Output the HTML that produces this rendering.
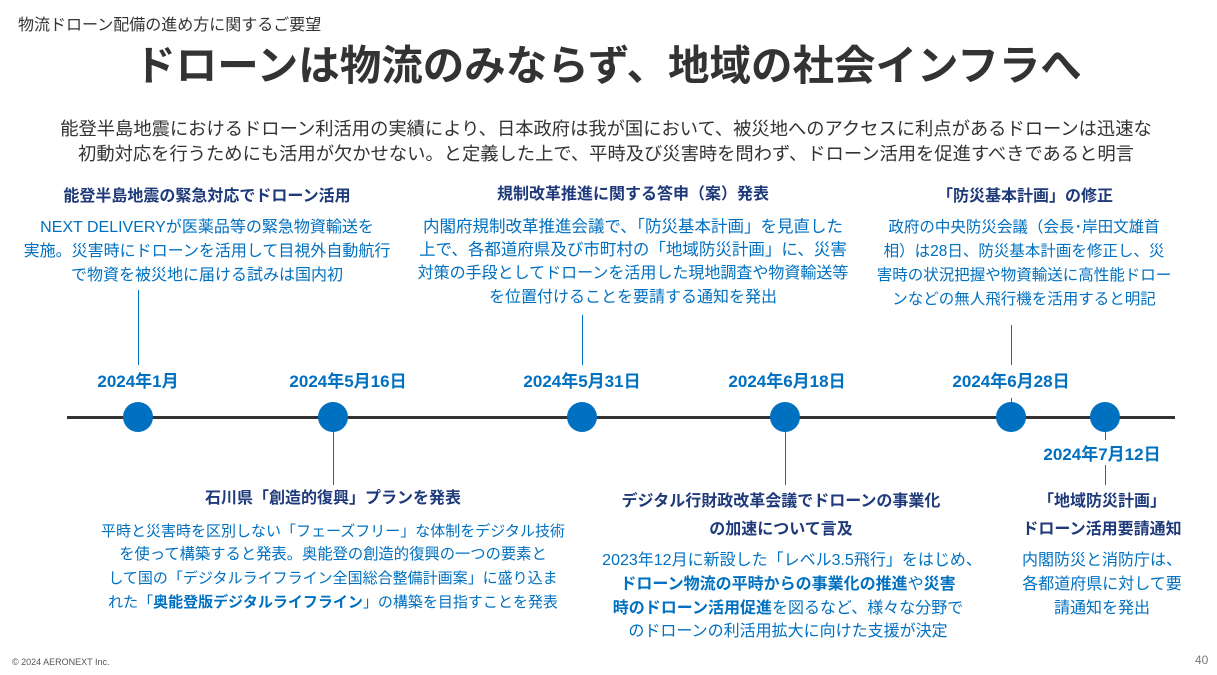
<!DOCTYPE html>
<html><head><meta charset="utf-8"><style>
body{margin:0;width:1217px;height:675px;background:#fff;position:relative;overflow:hidden;font-family:"Liberation Sans","Noto Sans CJK JP",sans-serif}
.l{position:absolute;white-space:nowrap;transform:translateX(-50%);line-height:1}
.h{color:#1f3a7a;font-weight:bold;font-size:16px}
.b{color:#0070c0;font-size:16px}
.d{color:#0070c0;font-weight:bold;font-size:17px}
.i{color:#333;font-size:18.3px}
.v{position:absolute;width:1px;background:#0070c0}
.c{position:absolute;width:30px;height:30px;border-radius:50%;background:#0070c0}
b{font-weight:bold}
</style></head><body>
<div style="position:absolute;left:18px;top:11px;font-size:16px;color:#333">物流ドローン配備の進め方に関するご要望</div>
<div class="l" style="left:608px;top:45px;font-size:41.5px;font-weight:bold;color:#333">ドローンは物流のみならず、地域の社会インフラへ</div>
<div class="l i" style="left:606px;top:120px">能登半島地震におけるドローン利活用の実績により、日本政府は我が国において、被災地へのアクセスに利点があるドローンは迅速な</div>
<div class="l i" style="left:606px;top:145px">初動対応を行うためにも活用が欠かせない。と定義した上で、平時及び災害時を問わず、ドローン活用を促進すべきであると明言</div>

<div class="l h" style="left:207px;top:189px">能登半島地震の緊急対応でドローン活用</div>
<div class="l b" style="left:207px;top:220px">NEXT DELIVERYが医薬品等の緊急物資輸送を</div>
<div class="l b" style="left:207px;top:244px">実施。災害時にドローンを活用して目視外自動航行</div>
<div class="l b" style="left:207px;top:268px">で物資を被災地に届ける試みは国内初</div>

<div class="l h" style="left:633px;top:187px">規制改革推進に関する答申（案）発表</div>
<div class="l b" style="left:633px;top:219px;font-size:16.5px">内閣府規制改革推進会議で、「防災基本計画」を見直した</div>
<div class="l b" style="left:633px;top:242px;font-size:16.5px">上で、各都道府県及び市町村の「地域防災計画」に、災害</div>
<div class="l b" style="left:633px;top:266px">対策の手段としてドローンを活用した現地調査や物資輸送等</div>
<div class="l b" style="left:633px;top:290px">を位置付けることを要請する通知を発出</div>

<div class="l h" style="left:1025px;top:189px">「防災基本計画」の修正</div>
<div class="l b" style="left:1024px;top:220px;font-size:15.5px">政府の中央防災会議（会長･岸田文雄首</div>
<div class="l b" style="left:1024px;top:244px;font-size:15.5px">相）は28日、防災基本計画を修正し、災</div>
<div class="l b" style="left:1024px;top:268px;font-size:15.5px">害時の状況把握や物資輸送に高性能ドロー</div>
<div class="l b" style="left:1024px;top:292px;font-size:15.5px">ンなどの無人飛行機を活用すると明記</div>

<div class="v" style="left:138px;top:290px;height:75px"></div>
<div class="v" style="left:582px;top:315px;height:50px"></div>
<div class="v" style="left:1011px;top:325px;height:40px"></div>
<div class="v" style="left:1011px;top:398px;height:15px"></div>

<div class="l d" style="left:138px;top:373px">2024年1月</div>
<div class="l d" style="left:348px;top:373px">2024年5月16日</div>
<div class="l d" style="left:582px;top:373px">2024年5月31日</div>
<div class="l d" style="left:787px;top:373px">2024年6月18日</div>
<div class="l d" style="left:1011px;top:373px">2024年6月28日</div>
<div class="l d" style="left:1102px;top:446px">2024年7月12日</div>

<div style="position:absolute;left:67px;top:416px;width:1108px;height:3px;background:#333"></div>
<div class="c" style="left:123px;top:402px"></div>
<div class="c" style="left:318px;top:402px"></div>
<div class="c" style="left:567px;top:402px"></div>
<div class="c" style="left:770px;top:402px"></div>
<div class="c" style="left:996px;top:402px"></div>
<div class="c" style="left:1090px;top:402px"></div>

<div class="v" style="left:333px;top:430px;height:55px"></div>
<div class="v" style="left:785px;top:430px;height:55px"></div>
<div class="v" style="left:1105px;top:432px;height:8px"></div>
<div class="v" style="left:1105px;top:465px;height:20px"></div>

<div class="l h" style="left:333px;top:491px">石川県「創造的復興」プランを発表</div>
<div class="l b" style="left:333px;top:524px;font-size:15px">平時と災害時を区別しない「フェーズフリー」な体制をデジタル技術</div>
<div class="l b" style="left:333px;top:547px;font-size:15.3px">を使って構築すると発表。奥能登の創造的復興の一つの要素と</div>
<div class="l b" style="left:333px;top:571px;font-size:15px">して国の「デジタルライフライン全国総合整備計画案」に盛り込ま</div>
<div class="l b" style="left:333px;top:595px;font-size:15px">れた「<b>奥能登版デジタルライフライン</b>」の構築を目指すことを発表</div>

<div class="l h" style="left:781px;top:494px">デジタル行財政改革会議でドローンの事業化</div>
<div class="l h" style="left:781px;top:522px">の加速について言及</div>
<div class="l b" style="left:792px;top:553px">2023年12月に新設した「レベル3.5飛行」をはじめ、</div>
<div class="l b" style="left:788px;top:577px"><b>ドローン物流の平時からの事業化の推進</b>や<b>災害</b></div>
<div class="l b" style="left:788px;top:601px"><b>時のドローン活用促進</b>を図るなど、様々な分野で</div>
<div class="l b" style="left:788px;top:624px">のドローンの利活用拡大に向けた支援が決定</div>

<div class="l h" style="left:1102px;top:494px">「地域防災計画」</div>
<div class="l h" style="left:1102px;top:522px">ドローン活用要請通知</div>
<div class="l b" style="left:1102px;top:553px">内閣防災と消防庁は、</div>
<div class="l b" style="left:1102px;top:577px">各都道府県に対して要</div>
<div class="l b" style="left:1102px;top:601px">請通知を発出</div>

<div style="position:absolute;left:12px;top:657px;font-size:9px;color:#555">© 2024 AERONEXT Inc.</div>
<div style="position:absolute;left:1195px;top:653px;font-size:12px;color:#777">40</div>
</body></html>
